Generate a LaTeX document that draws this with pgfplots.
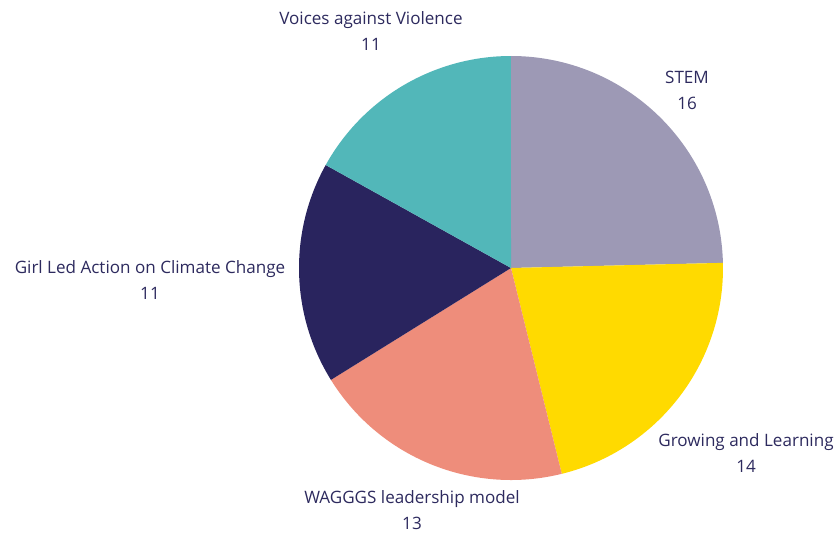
\documentclass[border=0pt]{standalone}
\usepackage{pgfplots}
\pgfplotsset{compat=1.18}
\usepackage{fontspec}
\setmainfont{Open Sans}
\definecolor{cStem}{HTML}{9D99B5}
\definecolor{cGrow}{HTML}{FFDA00}
\definecolor{cWag}{HTML}{EE8D7B}
\definecolor{cGirl}{HTML}{29245E}
\definecolor{cVoice}{HTML}{52B7B9}
\definecolor{txt}{HTML}{2D2A5E}

\begin{document}
\begin{tikzpicture}
	\useasboundingbox (0,0) rectangle (628.5pt,399.75pt);
	\begin{axis}[
		at={(0,0)},anchor=south west,
		hide axis,
		scale only axis,
		width=628.5pt,height=399.75pt,
		xmin=0,xmax=838,ymin=0,ymax=533,
		clip=false
		]
		% pie slices, clockwise from the top; total = 65
		\def\cur{90}
		\pgfplotsforeachungrouped \v/\col in {16/cStem,14/cGrow,13/cWag,11/cGirl,11/cVoice}{
			\pgfmathsetmacro{\nxt}{\cur-\v/65*360}
			\edef\temp{\noexpand\fill[\col] (axis cs:511,265) -- ++(\cur:159pt)
				arc[start angle=\cur, end angle=\nxt, radius=159pt] -- cycle;}
			\temp
			\let\cur\nxt
		}
		\tikzset{lab/.style={text=txt, align=center, font=\fontsize{12.8}{19.5}\selectfont}}
		\node[lab] at (axis cs:371,502) {Voices against Violence\\11};
		\node[lab] at (axis cs:687,443) {STEM\\16};
		\node[lab] at (axis cs:150,253) {Girl Led Action on Climate Change\\11};
		\node[lab] at (axis cs:746,80) {Growing and Learning\\14};
		\node[lab] at (axis cs:412,23) {WAGGGS leadership model\\13};
	\end{axis}
\end{tikzpicture}
\end{document}
